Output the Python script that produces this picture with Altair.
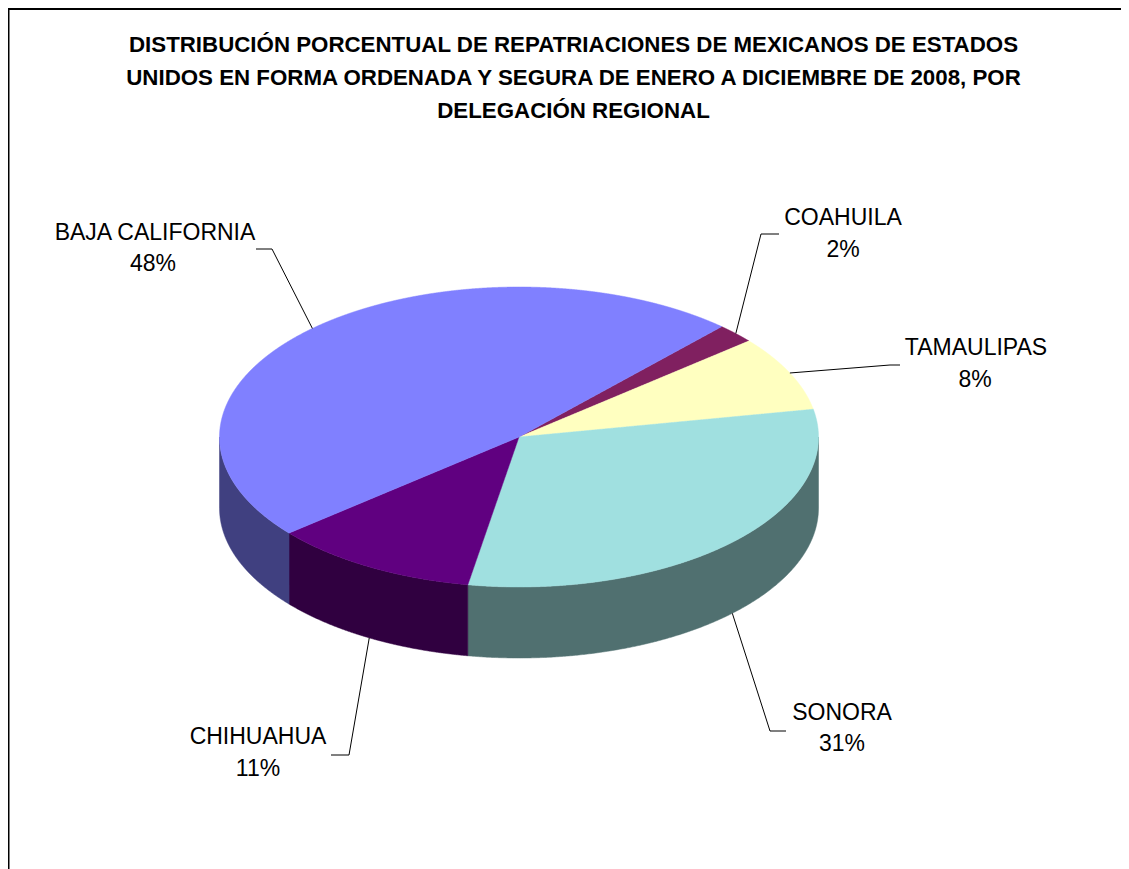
import numpy as np
import pandas as pd
import altair as alt

# --- values
regions = ["COAHUILA", "TAMAULIPAS", "SONORA", "CHIHUAHUA", "BAJA CALIFORNIA"]
shares = [2.1, 8.1, 30.7, 11.2, 47.9]
top_colors = ["#802060", "#FFFFC0", "#A0E0E0", "#600080", "#8080FF"]
side_colors = ["#401030", "#808060", "#507070", "#300040", "#404080"]
title_lines = [
    "DISTRIBUCIÓN PORCENTUAL DE REPATRIACIONES DE MEXICANOS DE ESTADOS",
    "UNIDOS EN FORMA ORDENADA Y SEGURA DE ENERO A DICIEMBRE DE 2008, POR",
    "DELEGACIÓN REGIONAL",
]

# --- layout (page pixels minus the 8px margin)
W, H = 1113, 861
CX, CY, RX, RY, DEPTH = 511, 429, 299.5, 150, 71
START = 42.6
FONT = "Liberation Sans"
label_pos = {
    "COAHUILA": (835, 210, 835, 242, 753, 226, 771, 226),
    "TAMAULIPAS": (968, 340, 967, 372, 882, 357, 892, 357),
    "SONORA": (834, 705, 834, 736, 762, 723, 778, 723),
    "CHIHUAHUA": (250, 729, 250, 761, 341, 747, 323, 747),
    "BAJA CALIFORNIA": (147, 225, 145, 256, 264, 241, 248, 241),
}


def ellipse(deg):
    t = np.radians(deg)
    return CX + RX * np.sin(t), CY - RY * np.cos(t)


def wedge_rows(name, a0, a1):
    arc = np.linspace(a0, a1, 400)
    px, py = ellipse(arc)
    vx = np.r_[CX, px, CX]
    vy = np.r_[CY, py, CY]
    xs = np.unique(np.r_[np.arange(vx.min(), vx.max(), 0.5), vx])
    rows = []
    for x in xs:
        found = []
        for i in range(len(vx) - 1):
            x0, x1, y0, y1 = vx[i], vx[i + 1], vy[i], vy[i + 1]
            if min(x0, x1) <= x <= max(x0, x1):
                if x0 == x1:
                    found += [y0, y1]
                else:
                    found.append(y0 + (y1 - y0) * (x - x0) / (x1 - x0))
        if found:
            rows.append(dict(part=name, x=x, y=min(found), y2=max(found)))
    return rows


def side_rows(name, a0, a1):
    lo, hi = max(a0, 90), min(a1, 270)
    if lo >= hi:
        return []
    arc = np.linspace(lo, hi, 300)
    px, py = ellipse(arc)
    return [dict(part=name, x=a, y=b, y2=b + DEPTH) for a, b in zip(px, py)]


top, side, leaders, texts = [], [], [], []
angle = START
for name, share in zip(regions, shares):
    a0, a1 = angle, angle + share * 3.6
    angle = a1
    top += wedge_rows(name, a0, a1)
    side += side_rows(name + " side", a0, a1)
    mid = (a0 + a1) / 2
    ax, ay = ellipse(mid)
    if 90 < mid % 360 < 270:
        ay += DEPTH
    nx, ny, px_, py_, ex, ey, fx, fy = label_pos[name]
    for k, (lx, ly) in enumerate([(ax, ay), (ex, ey), (fx, fy)]):
        leaders.append(dict(part=name, k=k, x=lx, y=ly))
    texts.append(dict(t=name, x=nx, y=ny))
    texts.append(dict(t=f"{round(share)}%", x=px_, y=py_))

xs = alt.Scale(domain=[0, W], range=[0, W])
ys = alt.Scale(domain=[0, H], range=[0, H])
X = alt.X("x:Q", scale=xs, axis=None)
Y = alt.Y("y:Q", scale=ys, axis=None)
color_scale = alt.Scale(
    domain=regions + [r + " side" for r in regions],
    range=top_colors + side_colors,
)
fill = alt.Color("part:N", scale=color_scale, legend=None)
stroke = alt.Stroke("part:N", scale=color_scale, legend=None)

frame_left = alt.Chart(pd.DataFrame({"a": [0]})).mark_rule(color="black", strokeWidth=2).encode(
    x=alt.value(0.5), y=alt.value(0), y2=alt.value(H))
frame_top = alt.Chart(pd.DataFrame({"a": [0]})).mark_rule(color="black", strokeWidth=2).encode(
    x=alt.value(0), x2=alt.value(W), y=alt.value(1))

side_layer = alt.Chart(pd.DataFrame(side)).mark_area(strokeWidth=0.5).encode(
    x=X, y=Y, y2="y2:Q", color=fill, stroke=stroke)
top_layer = alt.Chart(pd.DataFrame(top)).mark_area(strokeWidth=0.5).encode(
    x=X, y=Y, y2="y2:Q", color=fill, stroke=stroke)
leader_layer = alt.Chart(pd.DataFrame(leaders)).mark_line(color="black", strokeWidth=1).encode(
    x=X, y=Y, detail="part:N", order="k:Q")
text_layer = alt.Chart(pd.DataFrame(texts)).mark_text(
    font=FONT, fontSize=23, color="black", align="center", baseline="middle"
).encode(x=X, y=Y, text="t:N")

chart = alt.layer(frame_left, frame_top, side_layer, top_layer, leader_layer, text_layer).properties(
    width=W,
    height=H,
    padding=0,
    autosize=alt.AutoSizeParams(type="none"),
    title=alt.TitleParams(
        text=title_lines, font=FONT, fontSize=22.3, fontWeight="bold", color="black",
        lineHeight=33, anchor="middle", baseline="top", dx=9, dy=119,
    ),
).configure_view(stroke=None).resolve_scale(color="shared")

chart.save("out.html", embed_options={"renderer": "svg", "actions": False})
